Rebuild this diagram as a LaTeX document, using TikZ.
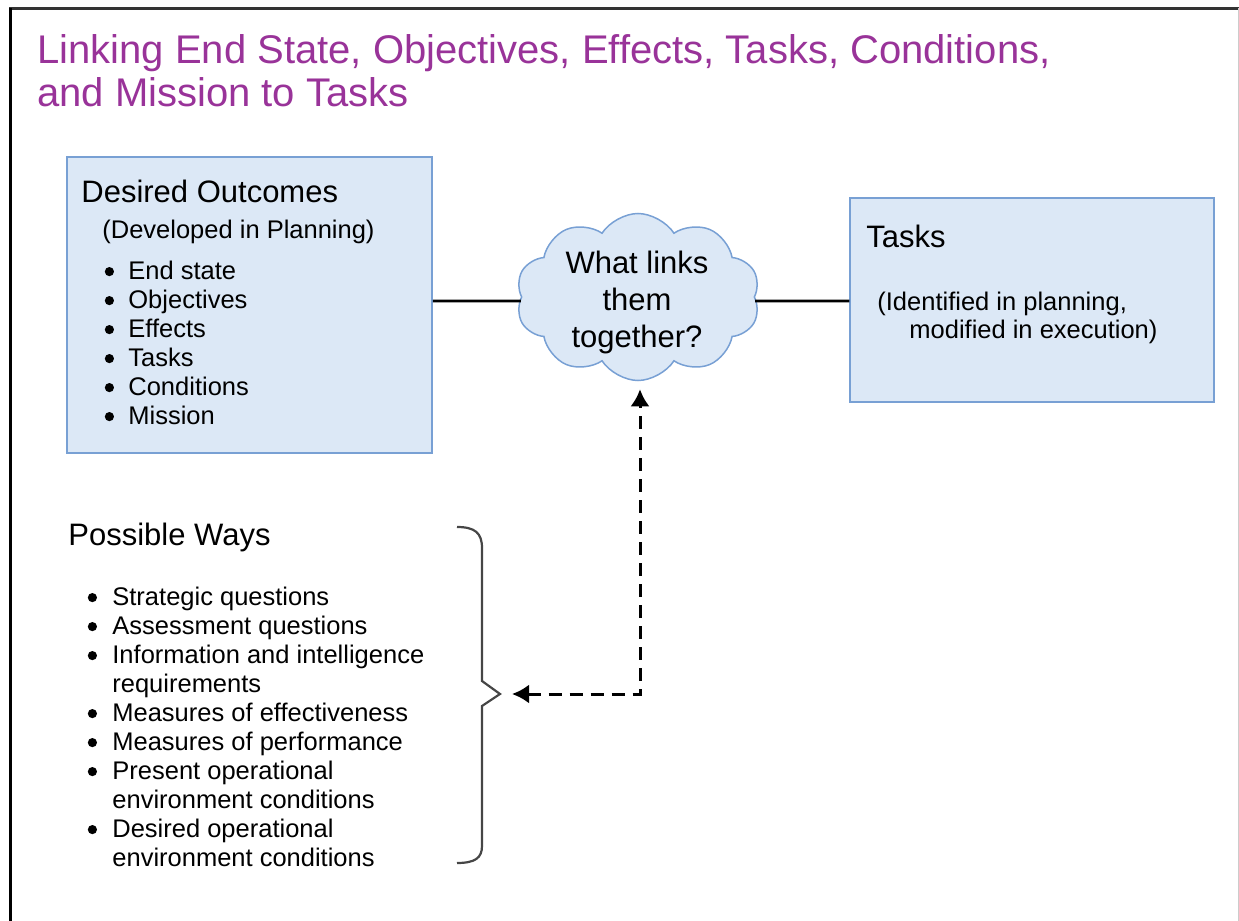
\documentclass[tikz,border=0pt]{standalone}
\usepackage{fontspec}
\setmainfont{Liberation Sans}
\usetikzlibrary{shapes.symbols,arrows.meta}
\definecolor{boxfill}{RGB}{220,232,246}
\definecolor{boxline}{RGB}{120,160,212}
\definecolor{titlecol}{RGB}{153,51,153}
\definecolor{bracecol}{RGB}{70,70,70}
\newcommand{\bigdot}{\makebox[0pt]{\tikz[baseline=0pt]\fill[black] (0pt,3.7pt) circle (2.3pt);}}
\begin{document}
\begin{tikzpicture}[x=0.5pt,y=-0.5pt,
  titletext/.style={inner sep=0pt,text=titlecol,font=\fontsize{20}{21.5}\selectfont},
  headtext/.style={inner sep=0pt,font=\fontsize{15.5}{18.5}\selectfont},
  bodytext/.style={inner sep=0pt,font=\fontsize{12.75}{14.5}\selectfont},
  subtext/.style={inner sep=0pt,font=\fontsize{12.75}{14}\selectfont},
  bluebox/.style={draw=boxline,fill=boxfill,line width=0.75pt,rectangle,inner sep=0pt},
  cloudbox/.style={draw=boxline,fill=boxfill,line width=0.75pt,cloud,cloud puffs=10,cloud puff arc=115,cloud ignores aspect,inner sep=0pt},
  link/.style={line width=1.4pt,black},
  dasharrow/.style={line width=1.5pt,dash pattern=on 6.5pt off 4pt,{Latex[length=8.5pt,width=9.5pt]}-{Latex[length=8.5pt,width=9.5pt]}},
  bracestyle/.style={draw=bracecol,line width=1.1pt,line join=miter}
]
\useasboundingbox (0,0) rectangle (1239,921);
% frame
\draw[line width=1.5pt,black!80] (9,8.5) -- (1239,8.5);
\draw[line width=1.5pt,black] (10.5,8) -- (10.5,921);
\draw[line width=0.5pt,black!20] (1238,8) -- (1238,921);

% title
\node[titletext,anchor=base west] (title) at (37,63)
  {\begin{tabular}[t]{@{}l@{}}Linking End State, Objectives, Effects, Tasks, Conditions,\\and Mission to Tasks\end{tabular}};

% boxes
\node[bluebox,minimum width=182.5pt,minimum height=148pt] (outcomes) at (249.5,305) {};
\node[bluebox,minimum width=182pt,minimum height=102pt] (tasks) at (1032,300) {};
\node[cloudbox,minimum width=122pt,minimum height=83.5pt] (cloud) at (638,297) {};

% box texts
\node[headtext,anchor=base west] (outhead) at (81,202) {Desired Outcomes};
\node[bodytext,anchor=base west] (outsub) at (102,238) {(Developed in Planning)};
\node[bodytext,anchor=base west] (outlist) at (109,279)
  {\begin{tabular}[t]{@{}l@{\hspace{9.5pt}}l@{}}
  \bigdot & End state\\
  \bigdot & Objectives\\
  \bigdot & Effects\\
  \bigdot & Tasks\\
  \bigdot & Conditions\\
  \bigdot & Mission
  \end{tabular}};

\node[headtext,anchor=base west] (taskhead) at (866,247) {Tasks};
\node[subtext,anchor=base west] (tasksub) at (877,310)
  {\begin{tabular}[t]{@{}l@{}}(Identified in planning,\\\hspace{16pt}modified in execution)\end{tabular}};

\node[headtext,anchor=base] (cloudtext) at (637,273)
  {\begin{tabular}[t]{@{}c@{}}What links\\them\\together?\end{tabular}};

% possible ways
\node[headtext,anchor=base west] (wayshead) at (68,545) {Possible Ways};
\node[bodytext,anchor=base west] (wayslist) at (92,605)
  {\begin{tabular}[t]{@{}l@{\hspace{10pt}}l@{}}
  \bigdot & Strategic questions\\
  \bigdot & Assessment questions\\
  \bigdot & Information and intelligence\\
   & requirements\\
  \bigdot & Measures of effectiveness\\
  \bigdot & Measures of performance\\
  \bigdot & Present operational\\
   & environment conditions\\
  \bigdot & Desired operational\\
   & environment conditions
  \end{tabular}};

% brace
\coordinate (bracetip) at (500,694);
\draw[bracestyle] (457,527) .. controls (475,527) and (482,533) .. (482,548)
  -- (482,681) -- (bracetip) -- (482,706) -- (482,846)
  .. controls (482,858) and (475,863) .. (457,863);

% connectors
\draw[link] (outcomes.east |- 0,301) -- ([yshift=-2pt]cloud.west);
\draw[link] ([yshift=-2pt]cloud.east) -- (tasks.west |- 0,301);
\draw[dasharrow] ([xshift=6pt]bracetip) -| ([yshift=-4pt,xshift=1pt]cloud.south);
\end{tikzpicture}
\end{document}
